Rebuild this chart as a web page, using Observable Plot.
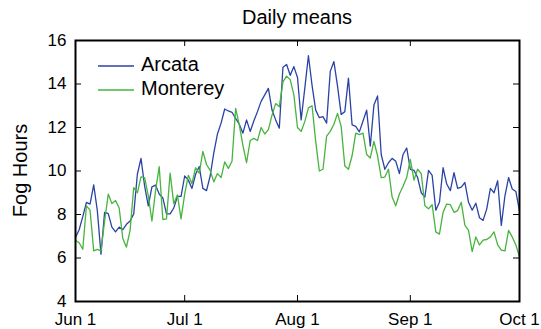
<!DOCTYPE html>
<html><head><meta charset="utf-8">
<script src="https://cdn.jsdelivr.net/npm/d3@7"></script>
<script src="https://cdn.jsdelivr.net/npm/@observablehq/plot@0.6"></script>
<style>body{margin:0;background:#fff}</style>
</head><body><div id="chart"></div>
<script>
const seriesNames = ["Arcata", "Monterey"];
const arcata = [
6.94, 7.3, 7.9, 8.56, 8.48, 9.36, 8.18, 6.18, 8.1, 8.04,
7.42, 7.2, 7.42, 7.3, 7.55, 7.7, 8.03, 9.85, 10.58, 9.3,
8.4, 9.27, 9.35, 8.94, 8.76, 8.03, 8.03, 8.3, 8.83, 8.83,
9.77, 9.58, 9.2, 9.85, 10.2, 9.2, 9.1, 9.77, 10.83, 11.7,
12.2, 12.85, 12.76, 12.7, 12.42, 12.15, 11.74, 12.35, 11.82, 12.3,
12.73, 13.2, 13.5, 13.8, 12.8, 12.35, 11.97, 14.77, 14.9, 14.4,
14.8, 14.3, 12.35, 13.8, 15.3, 13.94, 12.8, 12.45, 12.5, 12.2,
14.58, 15.03, 13.9, 12.6, 12.73, 14.27, 12.12, 12.05, 11.8, 12.3,
12.8, 11.14, 13.03, 13.45, 10.76, 10.08, 10.38, 10.58, 10.45, 9.88,
10.76, 11.06, 10.08, 10.03, 9.7, 9.0, 8.8, 10.03, 9.8, 8.2,
8.56, 10.15, 9.4, 9.1, 9.92, 9.2, 9.26, 9.47, 8.56, 8.2,
8.52, 7.85, 7.73, 8.26, 9.2, 9.0, 9.55, 7.5, 8.86, 9.7,
9.17, 9.06, 8.15
];
const monterey = [
6.8, 6.7, 6.4, 8.4, 8.2, 6.33, 6.4, 6.33, 7.7, 8.94,
8.5, 8.64, 8.3, 6.9, 6.5, 7.27, 9.24, 9.0, 9.73, 9.7,
8.86, 7.7, 9.1, 10.2, 7.77, 7.8, 9.9, 8.5, 8.9, 7.8,
8.94, 9.8, 9.42, 10.15, 9.9, 10.9, 10.3, 10.03, 9.5, 9.88,
9.7, 10.42, 10.12, 10.45, 12.88, 12.12, 11.18, 10.38, 11.4, 11.5,
11.4, 12.0, 11.7, 11.9, 12.57, 13.1, 12.95, 14.1, 14.36,
14.2, 13.5, 12.0, 11.82, 12.27, 12.9, 13.0, 11.36, 10.0, 10.08,
11.6, 11.82, 12.15, 12.65, 12.05, 10.23, 10.08, 10.7, 11.74, 11.67,
11.74, 10.76, 10.6, 11.36, 10.7, 9.7, 9.72, 10.08, 8.8, 8.4,
8.94, 9.3, 9.7, 10.53, 9.58, 10.08, 9.88, 8.4, 8.26, 8.45,
7.2, 7.1, 8.1, 8.48, 8.45, 8.1, 8.18, 8.56, 7.5, 7.27,
6.29, 6.97, 6.6, 6.82, 6.85, 6.97, 7.2, 6.6, 6.36, 6.33,
7.27, 6.97, 6.6, 6.06
];
const xTickDays = [0, 30, 61, 92, 122];
const xTickLabels = ["Jun 1", "Jul 1", "Aug 1", "Sep 1", "Oct 1"];
const yTicks = [4, 6, 8, 10, 12, 14, 16];
const titleText = "Daily means";
const yLabelText = "Fog Hours";

const W = 541, H = 329, mL = 75, mR = 22, mT = 40, mB = 28;
const ph = H - mT - mB, pw = W - mL - mR;
const font = "'Liberation Sans', Arial, Helvetica, sans-serif";
const colors = ["#2b43a6", "#46b43e"];
const seriesData = [arcata, monterey];
const rows = seriesNames.flatMap((s, k) => seriesData[k].map((v, i) => ({series: s, day: i, value: v})));

const chart = Plot.plot({
  width: W, height: H,
  marginLeft: mL, marginRight: mR, marginTop: mT, marginBottom: mB,
  style: {fontFamily: font, fontSize: "17px", background: "white", color: "black"},
  x: {domain: [0, 122]},
  y: {domain: [4, 16]},
  color: {domain: seriesNames, range: colors},
  marks: [
    Plot.line(rows, {x: "day", y: "value", z: "series", stroke: "series", strokeWidth: 1.3}),
    Plot.tickX(xTickDays, {x: d => d, insetTop: ph - 6, stroke: "black", strokeWidth: 1}),
    Plot.tickX(xTickDays, {x: d => d, insetBottom: ph - 6, stroke: "black", strokeWidth: 1}),
    Plot.tickY(yTicks, {y: d => d, insetRight: pw - 6, stroke: "black", strokeWidth: 1}),
    Plot.tickY(yTicks, {y: d => d, insetLeft: pw - 6, stroke: "black", strokeWidth: 1}),
    Plot.axisX(xTickDays, {tickSize: 0, tickPadding: 11, tickFormat: d => xTickLabels[xTickDays.indexOf(d)], label: null, fontSize: 17}),
    Plot.axisY(yTicks, {tickSize: 0, tickPadding: 9, label: null, fontSize: 17}),
    Plot.frame({stroke: "black", strokeWidth: 2})
  ]
});
document.getElementById("chart").appendChild(chart);

const svg = d3.select(chart);
svg.append("text").attr("x", mL + pw / 2).attr("y", 19)
  .attr("text-anchor", "middle").attr("dominant-baseline", "middle")
  .style("font-family", font).style("font-size", "20px").text(titleText);
svg.append("text").attr("transform", `translate(22,${mT + ph / 2}) rotate(-90)`)
  .attr("text-anchor", "middle").attr("dominant-baseline", "middle")
  .style("font-family", font).style("font-size", "20px").text(yLabelText);
const leg = svg.append("g");
seriesNames.forEach((s, k) => {
  const yy = mT + 26 + k * 24;
  leg.append("line").attr("x1", mL + 23).attr("x2", mL + 59).attr("y1", yy).attr("y2", yy)
    .attr("stroke", colors[k]).attr("stroke-width", 1.3);
  leg.append("text").attr("x", mL + 66).attr("y", yy)
    .attr("text-anchor", "start").attr("dominant-baseline", "middle")
    .style("font-family", font).style("font-size", "20px").text(s);
});
</script>
</body></html>
